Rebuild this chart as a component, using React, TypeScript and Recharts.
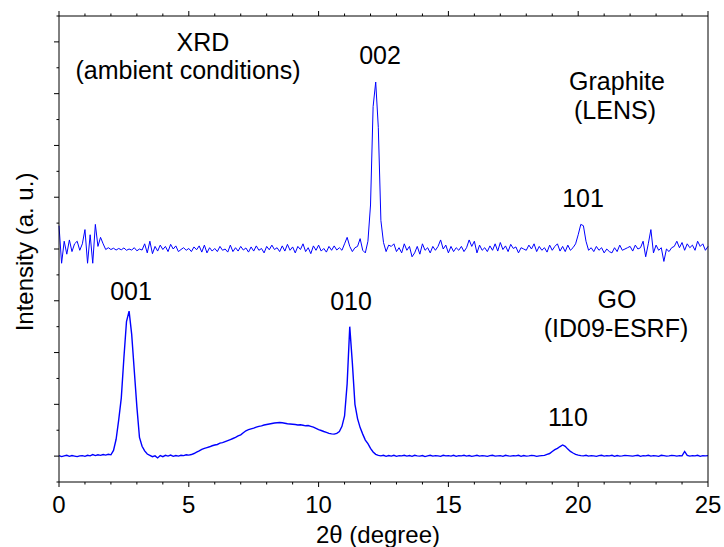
import { LineChart, Line, XAxis, YAxis } from "recharts"

const font = "'Liberation Sans', Arial, Helvetica, sans-serif"

// 2θ sampled every 0.1 degree from 0 to 25
const thetaStep = 0.1

// GO (ID09-ESRF), baseline at 0
const goIntensity = [
  0.02, -0.02, 0.01, 0.03, -0.01, 0.02, 0.0, -0.02, 0.01, 0.02,
  -0.01, 0.03, 0.01, 0.06, 0.02, 0.05, 0.03, 0.06, 0.04, 0.07,
  0.05, 0.22, 0.65, 1.4, 2.25, 3.8, 5.2, 5.6, 4.7, 3.3,
  1.9, 0.72, 0.38, 0.2, 0.08, 0.03, -0.02, 0.01, -0.07, 0.02,
  -0.02, 0.03, 0.0, 0.04, -0.01, 0.02, 0.0, 0.03, 0.02, 0.05,
  0.04, 0.06, 0.1, 0.15, 0.2, 0.26, 0.3, 0.33, 0.36, 0.4,
  0.43, 0.45, 0.5, 0.52, 0.56, 0.6, 0.64, 0.68, 0.72, 0.78,
  0.82, 0.9, 0.98, 1.02, 1.05, 1.08, 1.12, 1.15, 1.17, 1.2,
  1.22, 1.24, 1.26, 1.28, 1.29, 1.3, 1.29, 1.27, 1.25, 1.24,
  1.23, 1.22, 1.2, 1.21, 1.19, 1.17, 1.18, 1.15, 1.12, 1.07,
  1.02, 0.99, 0.95, 0.92, 0.88, 0.86, 0.85, 0.88, 0.95, 1.15,
  1.55, 2.8, 5.0, 3.6, 2.0, 1.45, 1.1, 0.85, 0.62, 0.48,
  0.3, 0.16, 0.07, 0.03, 0.01, 0.03, -0.01, 0.02, 0.0, 0.03,
  -0.01, 0.02, 0.01, 0.03, 0.0, 0.02, -0.01, 0.03, 0.01, 0.0,
  0.02, -0.02, 0.01, 0.03, 0.0, 0.02, 0.01, -0.01, 0.03, 0.01,
  0.02, 0.0, 0.03, -0.01, 0.02, 0.01, 0.03, 0.0, 0.02, -0.01,
  0.01, 0.03, 0.0, 0.02, 0.01, -0.01, 0.02, 0.03, 0.0, 0.01,
  0.02, -0.01, 0.03, 0.01, 0.0, 0.02, 0.01, 0.03, -0.01, 0.02,
  0.0, 0.01, 0.03, 0.02, -0.01, 0.01, 0.02, 0.03, 0.07, 0.1,
  0.18, 0.25, 0.3, 0.37, 0.43, 0.38, 0.27, 0.18, 0.12, 0.07,
  0.04, 0.02, 0.01, 0.03, 0.0, 0.02, 0.01, -0.01, 0.02, 0.03,
  0.0, 0.02, 0.01, 0.03, -0.01, 0.02, 0.0, 0.01, 0.03, 0.02,
  0.01, 0.0, 0.02, 0.03, -0.01, 0.02, 0.01, 0.03, 0.0, 0.02,
  0.01, -0.01, 0.03, 0.02, 0.0, 0.01, 0.03, 0.02, 0.0, 0.02,
  0.01, 0.18, 0.03, 0.0, 0.02, 0.01, 0.03, -0.01, 0.02, 0.01,
  0.02,
]

// Graphite (LENS), offset to baseline 8
const graphiteIntensity = [
  8.9, 7.45, 8.3, 7.8, 8.35, 7.9, 8.2, 8.3, 7.95, 8.2,
  8.75, 7.45, 8.55, 7.45, 8.95, 8.1, 8.45, 8.2, 7.98, 8.05,
  7.98, 8.03, 7.96, 8.02, 7.97, 8.04, 7.95, 8.0, 7.96, 8.05,
  7.93, 8.0, 7.96, 8.2, 7.85, 8.3, 7.82, 8.1, 7.92, 8.15,
  7.98, 8.1, 7.9, 8.18, 8.0, 8.12, 7.9, 7.98, 8.05, 7.95,
  8.02, 7.9, 8.08, 7.97, 8.12, 7.88, 8.15, 7.85, 8.05, 7.92,
  8.02, 7.9, 8.1, 7.95, 8.0, 7.88, 8.15, 7.9, 8.05, 7.92,
  8.1, 7.96, 8.04, 7.88, 8.08, 7.92, 8.12, 7.95, 8.02, 7.85,
  8.1, 7.97, 8.15, 7.98, 8.05, 7.9, 8.12, 7.92, 8.18, 7.95,
  8.08, 7.85, 8.1, 7.98, 8.2, 7.9, 8.05, 7.82, 8.12, 7.95,
  8.15, 7.92, 8.02, 7.88, 8.1, 7.95, 8.12, 7.96, 8.05, 7.95,
  8.2, 8.45, 8.1, 7.9, 8.05, 8.1, 8.4, 7.95, 7.85, 8.3,
  9.7, 13.5, 14.45, 12.7, 9.1, 8.25, 7.9, 8.15, 8.1, 8.2,
  7.9, 8.05, 7.85, 8.2, 7.95, 8.1, 7.7, 7.85, 8.1, 7.8,
  8.2, 7.95, 8.05, 7.85, 8.1, 7.95, 8.1, 8.35, 8.0, 8.15,
  7.85, 8.1, 7.9, 8.05, 7.95, 8.1, 7.9, 8.05, 8.35, 8.1,
  8.3, 7.85, 8.15, 7.95, 8.05, 7.9, 8.12, 7.95, 8.2, 7.92,
  8.25, 7.98, 8.12, 7.9, 8.18, 8.02, 8.08, 7.85, 8.05, 8.0,
  7.95, 8.15, 8.0, 8.2, 7.9, 8.1, 7.95, 8.05, 7.88, 8.15,
  7.95, 8.1, 8.2, 7.92, 8.1, 7.9, 8.15, 7.95, 8.05, 8.2,
  8.55, 8.95, 8.9, 8.3, 7.95, 8.05, 7.9, 8.1, 7.95, 8.05,
  7.85, 8.0, 7.9, 7.85, 8.05, 7.9, 8.15, 7.95, 8.0, 8.05,
  8.1, 7.92, 8.15, 8.0, 8.05, 8.3, 7.7, 8.2, 8.75, 7.85,
  8.15, 7.95, 8.05, 7.52, 8.0, 7.9, 8.05, 8.1, 8.3, 8.05,
  8.25, 7.95, 8.2, 8.05, 8.15, 7.95, 8.3, 8.1, 8.2, 7.95,
  8.1,
]

const thetaTicks = [0, 1, 2, 3, 4, 5, 6, 7, 8, 9, 10, 11, 12, 13, 14, 15, 16, 17, 18, 19, 20, 21, 22, 23, 24, 25]
const thetaLabels = [0, 5, 10, 15, 20, 25]
const intensityTicks = [-1, 0, 1, 2, 3, 4, 5, 6, 7, 8, 9, 10, 11, 12, 13, 14, 15, 16, 17]
const intensityMajor = [0, 2, 4, 6, 8, 10, 12, 14, 16]

const data = goIntensity.map((go, i) => ({
  theta: Math.round(i * thetaStep * 10) / 10,
  go,
  graphite: graphiteIntensity[i],
}))

const BottomTick = (props: any) => {
  const { x, y, payload } = props
  const major = thetaLabels.includes(payload.value)
  return (
    <g>
      <line x1={x} y1={y} x2={x} y2={y + (major ? 5 : 2.5)} stroke="#000" strokeWidth={1} />
      {major && (
        <text x={x} y={y + 31} textAnchor="middle" fontSize={24} fontFamily={font} fill="#000">
          {payload.value}
        </text>
      )}
    </g>
  )
}

const TopTick = (props: any) => {
  const { x, y, payload } = props
  const major = thetaLabels.includes(payload.value)
  return <line x1={x} y1={y} x2={x} y2={y - (major ? 5 : 2.5)} stroke="#000" strokeWidth={1} />
}

const LeftTick = (props: any) => {
  const { x, y, payload } = props
  const major = intensityMajor.includes(payload.value)
  return <line x1={x} y1={y} x2={x - (major ? 5 : 2.5)} y2={y} stroke="#000" strokeWidth={1} />
}

const RightTick = (props: any) => {
  const { x, y, payload } = props
  const major = intensityMajor.includes(payload.value)
  return <line x1={x} y1={y} x2={x + (major ? 5 : 2.5)} y2={y} stroke="#000" strokeWidth={1} />
}

const label = { fontFamily: font, fill: "#000", textAnchor: "middle" as const }

export default function App() {
  return (
    <div style={{ position: "absolute", left: 0, top: 0, background: "#fff" }}>
      <LineChart width={724} height={547} data={data} margin={{ top: 15, right: 15, bottom: 64, left: 58 }}>
        <XAxis
          dataKey="theta"
          type="number"
          domain={[0, 25]}
          ticks={thetaTicks}
          interval={0}
          tickSize={0}
          tickMargin={0}
          tickLine={false}
          height={1}
          axisLine={{ stroke: "#000", strokeWidth: 1 }}
          tick={BottomTick}
        />
        <XAxis
          xAxisId="top"
          orientation="top"
          dataKey="theta"
          type="number"
          domain={[0, 25]}
          ticks={thetaTicks}
          interval={0}
          tickSize={0}
          tickMargin={0}
          tickLine={false}
          height={1}
          axisLine={{ stroke: "#000", strokeWidth: 1 }}
          tick={TopTick}
        />
        <YAxis
          type="number"
          domain={[-1, 17]}
          ticks={intensityTicks}
          interval={0}
          tickSize={0}
          tickMargin={0}
          tickLine={false}
          width={1}
          axisLine={{ stroke: "#000", strokeWidth: 1 }}
          tick={LeftTick}
        />
        <YAxis
          yAxisId="right"
          orientation="right"
          type="number"
          domain={[-1, 17]}
          ticks={intensityTicks}
          interval={0}
          tickSize={0}
          tickMargin={0}
          tickLine={false}
          width={1}
          axisLine={{ stroke: "#000", strokeWidth: 1 }}
          tick={RightTick}
        />
        <Line dataKey="graphite" type="linear" stroke="#0000ff" strokeWidth={1} dot={false} isAnimationActive={false} />
        <Line dataKey="go" type="linear" stroke="#0000ff" strokeWidth={1.4} dot={false} isAnimationActive={false} />

        <text {...label} x={203} y={51} fontSize={25}>XRD</text>
        <text {...label} x={188} y={79} fontSize={25}>(ambient conditions)</text>
        <text {...label} x={380} y={64} fontSize={25}>002</text>
        <text {...label} x={617} y={90} fontSize={25}>Graphite</text>
        <text {...label} x={615} y={119} fontSize={25}>(LENS)</text>
        <text {...label} x={583} y={207} fontSize={25}>101</text>
        <text {...label} x={131} y={300} fontSize={25}>001</text>
        <text {...label} x={351} y={310} fontSize={25}>010</text>
        <text {...label} x={617} y={308} fontSize={25}>GO</text>
        <text {...label} x={616} y={337} fontSize={25}>(ID09-ESRF)</text>
        <text {...label} x={568} y={426} fontSize={25}>110</text>

        <text {...label} x={378} y={543} fontSize={24}>2θ (degree)</text>
        <text {...label} x={33} y={252} fontSize={24} transform="rotate(-90 33 252)">Intensity (a. u.)</text>
      </LineChart>
    </div>
  )
}
